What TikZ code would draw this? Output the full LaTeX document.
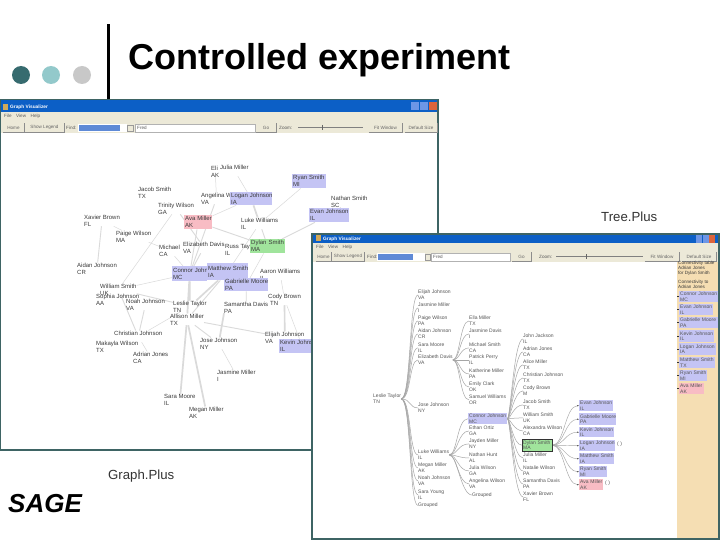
\documentclass[tikz,border=0pt]{standalone}
\usepackage{fontspec}
\setmainfont{Liberation Sans}
\usetikzlibrary{arrows.meta}
\definecolor{wframe}{HTML}{3E6464}
\definecolor{wtitle}{HTML}{0C5FC6}
\definecolor{wface}{HTML}{ECE9D8}
\definecolor{wsel}{HTML}{5F8AD6}
\definecolor{nblue}{HTML}{C4C4F4}
\definecolor{npink}{HTML}{F8BCC4}
\definecolor{ngreen}{HTML}{A0E49C}
\definecolor{npanel}{HTML}{F5DEB3}
\definecolor{nedge}{HTML}{DADADA}
\definecolor{ntext}{HTML}{3A3A3A}
\definecolor{ttext}{HTML}{555555}
\definecolor{dotdark}{HTML}{366B6F}
\definecolor{dotmid}{HTML}{93C9CB}
\definecolor{dotlight}{HTML}{C8C8C8}
\definecolor{winsand}{HTML}{D2AA5A}
\definecolor{winblue}{HTML}{6E96E6}
\definecolor{winred}{HTML}{DC643C}
\pgfdeclarelayer{wina}\pgfdeclarelayer{edgea}\pgfdeclarelayer{winb}\pgfdeclarelayer{edgeb}\pgfdeclarelayer{top}
\pgfsetlayers{wina,edgea,main,winb,edgeb,top}
\tikzset{
  gfont/.style={font=\fontsize{6}{7}\selectfont},
  tfont/.style={font=\fontsize{5}{5.8}\selectfont,text=ttext},
  person/.style={anchor=north west,inner sep=0pt,align=left,text=ntext},
  boxed/.style={anchor=north west,inner xsep=1pt,inner ysep=0pt,align=left,text=ntext},
  gedge/.style={draw=nedge,line width=.9pt},
  gthick/.style={draw=nedge,line width=1.7pt},
  gthin/.style={draw=nedge,line width=.5pt},
  tedge/.style={draw=black!35,line width=.5pt},
  tarrow/.style={draw=black!35,line width=.45pt,-{Latex[length=1.6pt,width=1.4pt,black!80]}},
  panelstub/.style={draw=black!80,line width=.5pt},
  btnbox/.style={fill=wface,draw=none,inner sep=0pt,text=black!60,font=\fontsize{4.6}{5}\selectfont},
  uitext/.style={inner sep=0pt,anchor=west,text=black!65,font=\fontsize{4.6}{5}\selectfont},
  winlabel/.style={inner sep=0pt,anchor=west,text=white,font=\bfseries\fontsize{4.8}{5}\selectfont},
  caption/.style={inner sep=0pt,anchor=west,text=black!80,font=\fontsize{13.2}{15}\selectfont}
}
\newcommand{\gpn}[5]{\node[person,gfont] (#1) at (#2,{#3-3.5}) {#4\\#5};}
\newcommand{\tpn}[5]{\node[person,tfont] (#1) at (#2,{#3-3}) {#4\\#5};}
\newcommand{\gbx}[8]{\pgfmathsetmacro{\wv}{#4-#2}\pgfmathsetmacro{\hv}{#5-#3}\pgfmathsetmacro{\tv}{#4-#2-2}
  \node[boxed,gfont,fill=#6,minimum width=\wv pt,minimum height=\hv pt,text width=\tv pt] (#1) at (#2,#3) {\makebox[0pt][l]{#7}\\\makebox[0pt][l]{#8}};}
\newcommand{\tbx}[8]{\pgfmathsetmacro{\wv}{#4-#2}\pgfmathsetmacro{\hv}{#5-#3}\pgfmathsetmacro{\tv}{#4-#2-2}
  \node[boxed,tfont,fill=#6,minimum width=\wv pt,minimum height=\hv pt,text width=\tv pt] (#1) at (#2,#3) {\makebox[0pt][l]{#7}\\\makebox[0pt][l]{#8}};}
\newcommand{\btn}[6]{\pgfmathsetmacro{\wv}{#3-#2}\pgfmathsetmacro{\hv}{#5-#4}\pgfmathsetmacro{\cx}{(#3+#2)/2}\pgfmathsetmacro{\cy}{(#5+#4)/2}
  \node[btnbox,minimum width=\wv pt,minimum height=\hv pt] (#1) at (\cx,\cy) {#6};
  \draw[black!45,line width=.5pt] (#1.south west) -- (#1.south east) -- (#1.north east);}
\begin{document}
\begin{tikzpicture}[x=1pt,y=-1pt]
\useasboundingbox (0,0) rectangle (720,540);
\begin{pgfonlayer}{wina}
\fill[white] (0,0) rectangle (720,540);
% slide header
\fill[dotdark] (21,75) circle (9);
\fill[dotmid] (51,75) circle (9);
\fill[dotlight] (82,75) circle (9);
\fill[black] (106.5,24) rectangle (109.5,99);
\node[inner sep=0pt,anchor=west,font=\bfseries\fontsize{36}{40}\selectfont] (title) at (128,60) {Controlled experiment};
% window A
\fill[wframe] (0,99) rectangle (439,451);
\fill[white] (1,133) rectangle (437,449);
\fill[wtitle] (1,100) rectangle (437,112);
\fill[wface] (1,112) rectangle (437,133);
\node[winlabel] (gtitle) at (10,107) {Graph Visualizer};
\fill[winsand] (3,104) rectangle (8,110);
\fill[winblue] (411,102) rectangle (419,110);
\fill[winblue] (420,102) rectangle (428,110);
\fill[winred] (429,102) rectangle (437,110);
\node[uitext] (gmenu) at (4,116) {File\quad View\quad Help};
\btn{ghome}{3}{24}{123}{132}{Home}
\btn{glegend}{25}{64}{123}{132}{Show Legend}
\node[uitext] (gfind) at (66,127.5) {Find:};
\fill[white] (78,124) rectangle (127,132);
\fill[wsel] (79,125) rectangle (120,131);
\fill[wface,draw=black!40,line width=.3pt] (127.5,125) rectangle (133,131);
\fill[white,draw=black!30,line width=.3pt] (135,124) rectangle (255,132);
\node[uitext] (gfield) at (137,127.5) {Fred};
\btn{ggo}{256}{276}{123}{132}{Go}
\node[uitext] (gzoom) at (279,127.5) {Zoom:};
\draw[black!50,line width=.5pt] (298,127.5) -- (363,127.5);
\draw[black!60,line width=.8pt] (322,125) -- (322,130);
\btn{gfit}{369}{402}{123}{132}{Fit Window}
\btn{gdef}{405}{437}{123}{132}{Default Size}
\end{pgfonlayer}
% graph view nodes
\gpn{eli}{211}{169}{Eli}{AK}
\gpn{julia}{220}{168}{Julia Miller}{}
\gbx{ryan}{292}{174}{326}{188}{nblue}{Ryan Smith}{MI}
\gpn{nathan}{331}{199}{Nathan Smith}{SC}
\gpn{angelina}{201}{196}{Angelina W}{VA}
\gbx{logan}{230}{192}{272}{205}{nblue}{Logan Johnson}{IA}
\gbx{evan}{309}{208}{349}{222}{nblue}{Evan Johnson}{IL}
\gpn{luke}{241}{221}{Luke Williams}{IL}
\gbx{ava}{184}{215}{212}{229}{npink}{Ava Miller}{AK}
\gpn{russ}{225}{247}{Russ Taylor}{IL}
\gbx{dylan}{250}{239}{285}{253}{ngreen}{Dylan Smith}{MA}
\gpn{lizd}{183}{245}{Elizabeth Davis}{VA}
\gpn{michael}{159}{248}{Michael}{CA}
\gpn{jacob}{138}{190}{Jacob Smith}{TX}
\gpn{trinity}{158}{206}{Trinity Wilson}{GA}
\gpn{xavier}{84}{218}{Xavier Brown}{FL}
\gpn{paige}{116}{234}{Paige Wilson}{MA}
\gpn{aidan}{77}{266}{Aidan Johnson}{CR}
\gbx{connor}{172}{266}{207}{281}{nblue}{Connor John}{MC}
\gbx{matthew}{207}{263}{248}{280}{nblue}{Matthew Smith}{IA}
\gpn{aaron}{260}{272}{Aaron Williams}{IL}
\gbx{gabrielle}{224}{278}{268}{291}{nblue}{Gabrielle Moore}{PA}
\gpn{cody}{268}{297}{Cody Brown}{}
\gpn{samantha}{224}{305}{Samantha Davis}{PA}
\node[person,gfont] (codystate) at (270,301.5) {TN};
\gpn{william}{100}{287}{William Smith}{UK}
\gpn{sophia}{96}{297}{Sophia Johnson}{AA}
\gpn{noah}{126}{302}{Noah Johnson}{VA}
\gpn{leslie}{173}{304}{Leslie Taylor}{TN}
\gpn{allison}{170}{317}{Allison Miller}{TX}
\gpn{elijah}{265}{335}{Elijah Johnson}{VA}
\gbx{kevin}{279}{339}{325}{353}{nblue}{Kevin Johnson}{IL}
\gpn{christian}{114}{334}{Christian Johnson}{}
\gpn{makayla}{96}{344}{Makayla Wilson}{TX}
\gpn{adrian}{133}{355}{Adrian Jones}{CA}
\gpn{jose}{200}{341}{Jose Johnson}{NY}
\gpn{jasmine}{217}{373}{Jasmine Miller}{I}
\gpn{sara}{164}{398}{Sara Moore}{IL}
\gpn{megan}{189}{410}{Megan Miller}{AK}
\begin{pgfonlayer}{edgea}
\draw[gthick] (allison) -- (sara);
\draw[gthick] (allison) -- (megan);
\draw[gthick] (samantha.south west) -- (jose);
\draw[gthick] (cody) -- (elijah);
\draw[gthick] (connor) -- (leslie);
\draw[gthick] (connor) -- (allison);
\draw[gthick] (matthew) -- (leslie);
\draw[gedge] (matthew) -- (allison);
\draw[gthick] (logan) -- (luke);
\draw[gthin] (logan) -- (ava);
\draw[gthin] (julia) -- (logan);
\draw[gthin] (eli) -- (angelina);
\draw[gedge] (angelina) -- (connor);
\draw[gedge] (lizd) -- (connor);
\draw[gthin] (michael) -- (connor);
\draw[gedge] (ava) -- (connor);
\draw[gedge] (ava) -- (dylan);
\draw[gedge] (trinity) -- (lizd);
\draw[gthin] (trinity) -- (william);
\draw[gedge] (luke) -- (dylan);
\draw[gthin] (luke) -- (matthew);
\draw[gthin] (dylan) -- (gabrielle);
\draw[gedge] (gabrielle) -- (samantha);
\draw[gthin] (gabrielle) -- (matthew);
\draw[gedge] (evan) -- (dylan);
\draw[gthin] (ryan) -- (luke);
\draw[gthin] (nathan) -- (evan);
\draw[gedge] (xavier) -- (aidan);
\draw[gthin] (xavier) -- (paige);
\draw[gthin] (paige) -- (michael);
\draw[gedge] (christian) -- (noah);
\draw[gedge] (christian) -- (william);
\draw[gthin] (christian) -- (leslie);
\draw[gthin] (adrian) -- (christian);
\draw[gedge] (william) -- (leslie);
\draw[gthin] (william) -- (connor);
\draw[gedge] (jose) -- (allison);
\draw[gthin] (jasmine) -- (jose);
\draw[gedge] (allison) -- (elijah);
\draw[gthin] (aaron) -- (cody);
\draw[gthin] (cody) -- (kevin);
\end{pgfonlayer}
% window B
\begin{pgfonlayer}{winb}
\fill[wframe] (311,233) rectangle (720,540);
\fill[white] (313,262) rectangle (718,538);
\fill[wtitle] (313,234.5) rectangle (718,243);
\fill[wface] (313,243) rectangle (718,262);
\node[winlabel] (ttitle) at (323,239) {Graph Visualizer};
\fill[winsand] (316,235) rectangle (321,241);
\fill[winblue] (696,235) rectangle (702,243);
\fill[winblue] (702.5,235) rectangle (708.5,243);
\fill[winred] (709,235) rectangle (715,243);
\node[uitext] (tmenu) at (316,247.5) {File\quad View\quad Help};
\btn{thome}{316}{331}{252.5}{261}{Home}
\btn{tlegend}{332}{364}{252.5}{261}{Show Legend}
\node[uitext] (tfind) at (367,256.5) {Find:};
\fill[white] (377,253) rectangle (425,261);
\fill[wsel] (378,254) rectangle (413,259.5);
\fill[wface,draw=black!40,line width=.3pt] (425.5,254) rectangle (430.5,260);
\fill[white,draw=black!30,line width=.3pt] (431,253) rectangle (510,261);
\node[uitext] (tfield) at (433,256.5) {Fred};
\btn{tgo}{512}{531}{252.5}{261}{Go}
\node[uitext] (tzoom) at (539,256.5) {Zoom:};
\draw[black!50,line width=.5pt] (556,256.5) -- (643,256.5);
\draw[black!60,line width=.8pt] (586,254) -- (586,259);
\btn{tfit}{645}{679}{252.5}{261}{Fit Window}
\btn{tdef}{682}{716}{252.5}{261}{Default Size}
\fill[npanel] (677,262) rectangle (718,538);
\node[person,font=\fontsize{4.6}{5.4}\selectfont] (ptxta) at (678,260.5) {Connectivity table\\Adrian Jones\\for Dylan Smith};
\node[person,font=\fontsize{4.6}{5.4}\selectfont] (ptxtb) at (678,279.5) {Connectivity to\\Adrian Jones};
\end{pgfonlayer}
\begin{pgfonlayer}{top}
% right panel
\tbx{pconnor}{679}{291}{718}{302}{nblue}{Connor Johnson}{MC}
\tbx{pevan}{679}{304}{713}{315}{nblue}{Evan Johnson}{IL}
\tbx{pgab}{679}{317}{718}{328}{nblue}{Gabrielle Moore}{PA}
\tbx{pkevin}{679}{330}{714}{342}{nblue}{Kevin Johnson}{IL}
\tbx{plogan}{679}{343}{716}{355}{nblue}{Logan Johnson}{IA}
\tbx{pmatt}{679}{357}{715}{368}{nblue}{Matthew Smith}{TX}
\tbx{pryan}{679}{370}{707}{381}{nblue}{Ryan Smith}{MI}
\tbx{pava}{679}{383}{704}{394}{npink}{Ava Miller}{AK}
\draw[panelstub] (pconnor.west) -- ++(-2,0);
\draw[panelstub] (pevan.west) -- ++(-2,0);
\draw[panelstub] (pgab.west) -- ++(-2,0);
\draw[panelstub] (pkevin.west) -- ++(-2,0);
\draw[panelstub] (plogan.west) -- ++(-2,0);
\draw[panelstub] (pmatt.west) -- ++(-2,0);
\draw[panelstub] (pryan.west) -- ++(-2,0);
\draw[panelstub] (pava.west) -- ++(-2,0);
% tree
\tpn{root}{373}{397}{Leslie Taylor}{TN}
\tpn{aa}{418}{293}{Elijah Johnson}{VA}
\tpn{ab}{418}{306}{Jasmine Miller}{I}
\tpn{ac}{418}{319}{Paige Wilson}{PA}
\tpn{ad}{418}{332}{Aidan Johnson}{CR}
\tpn{ae}{418}{346}{Sara Moore}{IL}
\tpn{af}{418}{358}{Elizabeth Davis}{VA}
\tpn{ag}{418}{406}{Jose Johnson}{NY}
\tpn{ah}{418}{453}{Luke Williams}{IL}
\tpn{ai}{418}{466}{Megan Miller}{AK}
\tpn{aj}{418}{479}{Noah Johnson}{VA}
\tpn{ak}{418}{493}{Sara Young}{IL}
\node[person,tfont] (al) at (418,503) {Grouped};
\tpn{ba}{469}{319}{Ella Miller}{TX}
\tpn{bb}{469}{332}{Jasmine Davis}{I}
\tpn{bc}{469}{346}{Michael Smith}{CA}
\tpn{bd}{469}{358}{Patrick Perry}{IL}
\tpn{be}{469}{372}{Katherine Miller}{PA}
\tpn{bf}{469}{385}{Emily Clark}{OK}
\tpn{bg}{469}{398}{Samuel Williams}{OR}
\tbx{bh}{468}{413}{507}{424}{nblue}{Connor Johnson}{MC}
\tpn{bi}{469}{429}{Ethan Ortiz}{GA}
\tpn{bj}{469}{442}{Jayden Miller}{NY}
\tpn{bk}{469}{456}{Nathan Hunt}{AL}
\tpn{bl}{469}{469}{Julia Wilson}{GA}
\tpn{bm}{469}{482}{Angelina Wilson}{VA}
\node[person,tfont] (bn) at (472,492.5) {Grouped};
\tpn{ca}{523}{337}{John Jackson}{IL}
\tpn{cb}{523}{350}{Adrian Jones}{CA}
\tpn{cc}{523}{363}{Alice Miller}{TX}
\tpn{cd}{523}{376}{Christian Johnson}{TX}
\tpn{ce}{523}{389}{Cody Brown}{M}
\tpn{cf}{523}{403}{Jacob Smith}{TX}
\tpn{cg}{523}{416}{William Smith}{UK}
\tpn{ch}{523}{429}{Alexandra Wilson}{CA}
\tbx{ci}{522}{439}{552}{451}{ngreen}{Dylan Smith}{MA}
\draw[black!80,line width=.6pt] (ci.north west) rectangle (ci.south east);
\tpn{cj}{523}{456}{Julia Miller}{IL}
\tpn{ck}{523}{469}{Natalie Wilson}{PA}
\tpn{cl}{523}{482}{Samantha Davis}{PA}
\tpn{cm}{523}{495}{Xavier Brown}{FL}
\tbx{da}{579}{400}{613}{411}{nblue}{Evan Johnson}{IL}
\tbx{db}{579}{413}{616}{425}{nblue}{Gabrielle Moore}{PA}
\tbx{dc}{579}{427}{614}{437}{nblue}{Kevin Johnson}{IL}
\tbx{dd}{579}{440}{615}{451}{nblue}{Logan Johnson}{IA}
\tbx{de}{579}{453}{614}{464}{nblue}{Matthew Smith}{IA}
\tbx{df}{579}{466}{607}{477}{nblue}{Ryan Smith}{MI}
\tbx{dg}{579}{479}{603}{490}{npink}{Ava Miller}{AK}
\node[person,tfont] (dxa) at (617,442) {( )};
\node[person,tfont] (dxb) at (605,481) {( )};
\end{pgfonlayer}
\begin{pgfonlayer}{edgeb}
\foreach \c in {aa,ab,ac,ad,ae,af,ag,ah,ai,aj,ak,al}{\draw[tedge] (root.east) .. controls +(10,0) and +(-9,0) .. (\c.west);}
\foreach \c in {ba,bb,bc,bd,be,bf,bg}{\draw[tedge] (af.east) .. controls +(7,0) and +(-9,0) .. (\c.west);}
\foreach \c in {bh,bi,bj,bk,bl,bm,bn}{\draw[tedge] (ah.east) .. controls +(8,0) and +(-11,0) .. (\c.west);}
\foreach \c in {ca,cb,cc,cd,ce,cf,cg,ch,ci,cj,ck,cl,cm}{\draw[tedge] (bh.east) .. controls +(3,0) and +(-9,0) .. (\c.west);}
\foreach \c in {da,db,dc,dd,de,df,dg}{\draw[tarrow] (ci.east) .. controls +(12,0) and +(-14,0) .. (\c.west);}
\end{pgfonlayer}
% captions
\begin{pgfonlayer}{top}
\node[caption] (treeplus) at (601,217) {Tree.Plus};
\node[caption] (graphplus) at (108,476) {Graph.Plus};
\node[inner sep=0pt,anchor=west,font=\bfseries\itshape\fontsize{26}{28}\selectfont] (sage) at (8,504) {SAGE};
\end{pgfonlayer}
\end{tikzpicture}
\end{document}
